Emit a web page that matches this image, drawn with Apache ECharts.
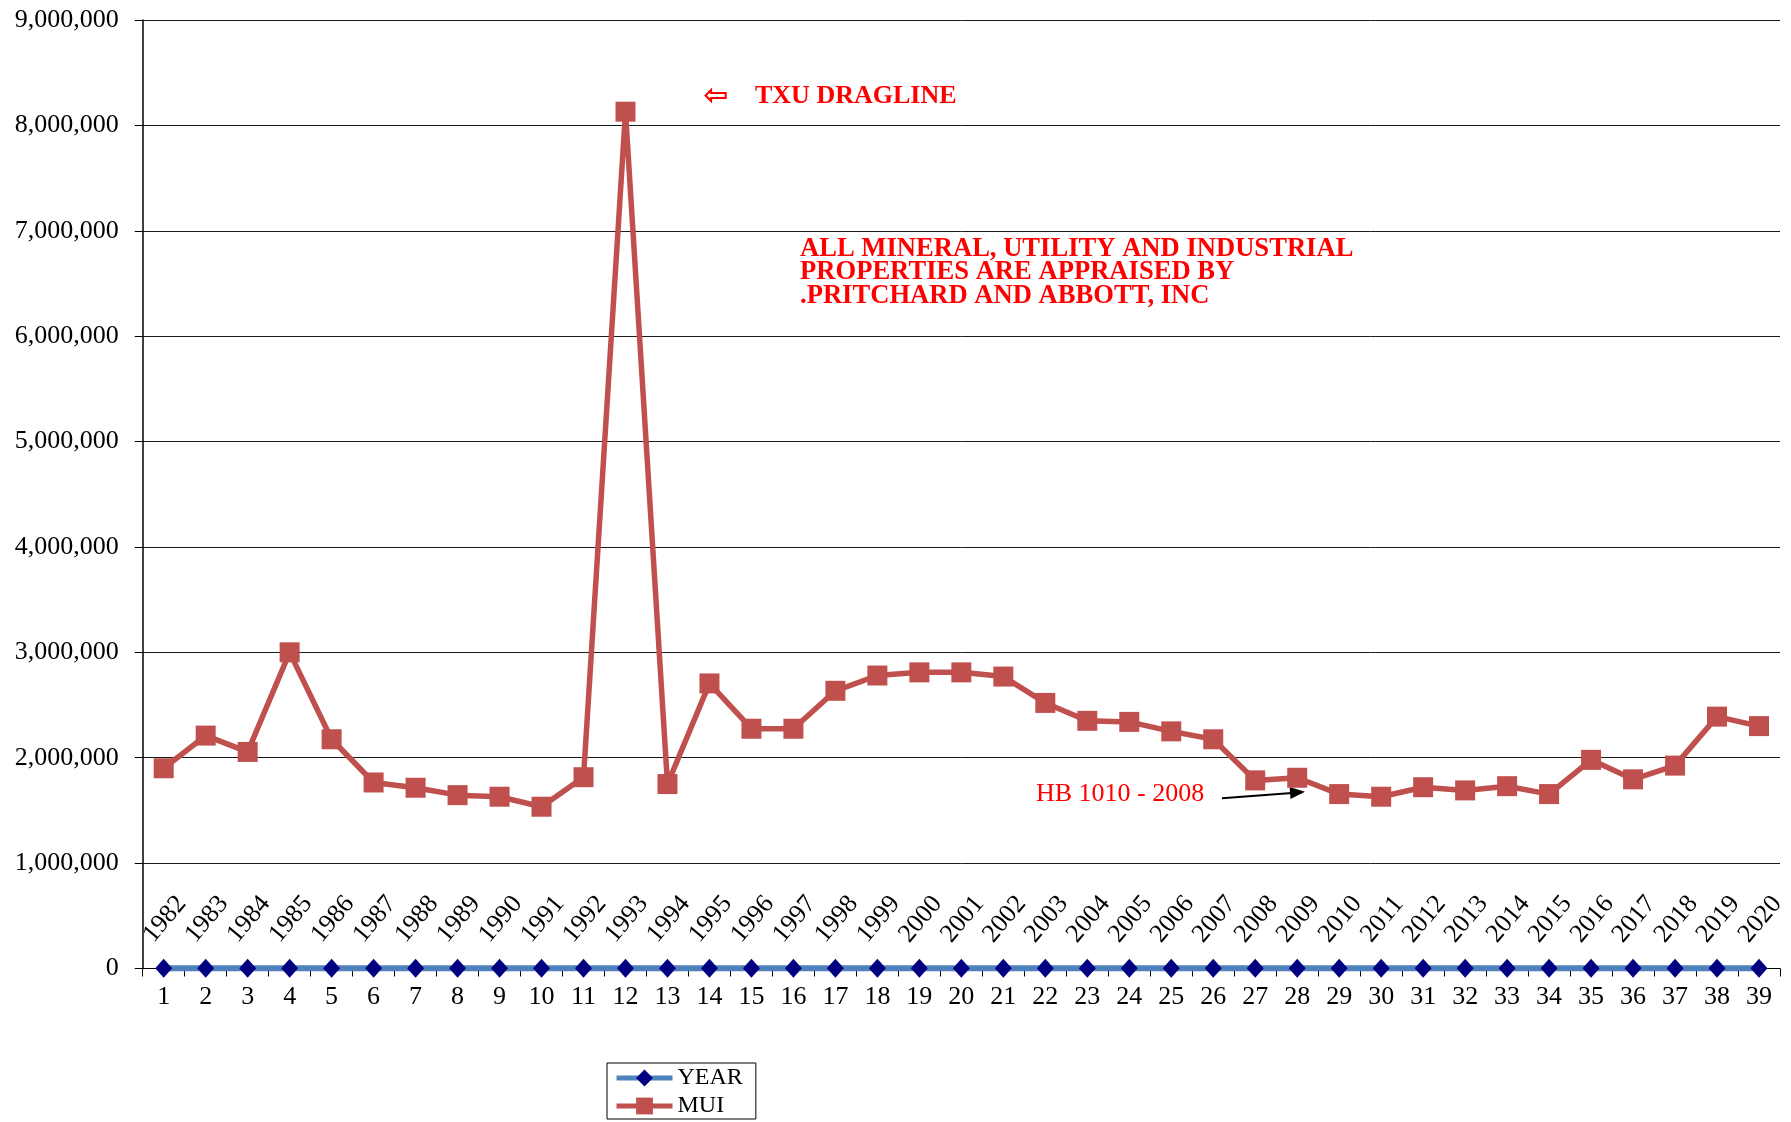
<!DOCTYPE html>
<html>
<head>
<meta charset="utf-8">
<script src="https://cdn.jsdelivr.net/npm/echarts@6/dist/echarts.min.js"></script>
<style>
  html, body { margin: 0; padding: 0; background: #fff; }
  #chart { width: 1791px; height: 1122px; }
</style>
</head>
<body>
<div id="chart"></div>
<script>
const categories = ['1','2','3','4','5','6','7','8','9','10','11','12','13','14','15','16','17','18','19','20',
  '21','22','23','24','25','26','27','28','29','30','31','32','33','34','35','36','37','38','39'];
const yearValues = [1982,1983,1984,1985,1986,1987,1988,1989,1990,1991,1992,1993,1994,1995,1996,1997,1998,1999,2000,
  2001,2002,2003,2004,2005,2006,2007,2008,2009,2010,2011,2012,2013,2014,2015,2016,2017,2018,2019,2020];
const muiValues = [1900000,2210000,2055000,3000000,2175000,1765000,1715000,1645000,1630000,1535000,
  1815000,8130000,1750000,2705000,2275000,2275000,2635000,2780000,2810000,2810000,
  2770000,2520000,2350000,2340000,2250000,2175000,1785000,1810000,1655000,1630000,
  1720000,1690000,1730000,1655000,1980000,1795000,1925000,2390000,2300000];
const seriesNames = ['YEAR', 'MUI'];
const yTicks = { min: 0, max: 9000000, interval: 1000000 };

const serif = "'Liberation Serif', 'Times New Roman', serif";
const chart = echarts.init(document.getElementById('chart'), null, { renderer: 'canvas' });

chart.setOption({
  backgroundColor: '#ffffff',
  animation: false,
  textStyle: { fontFamily: serif, color: '#000' },
  grid: { left: 142.7, right: 11, top: 20, bottom: 153.5, containLabel: false },
  legend: {
    data: seriesNames,
    orient: 'vertical',
    left: 607,
    top: 1063,
    padding: [3, 13, 1, 7],
    itemGap: 4,
    itemWidth: 56,
    itemHeight: 21,
    borderColor: '#000',
    borderWidth: 1,
    lineStyle: { width: 5 },
    textStyle: { fontFamily: serif, fontSize: 24, color: '#000' }
  },
  xAxis: {
    type: 'category',
    data: categories,
    boundaryGap: true,
    axisLine: { show: true, onZero: false, lineStyle: { color: '#000', width: 1 } },
    axisTick: { show: true, length: 8, inside: false, alignWithLabel: false, lineStyle: { color: '#000', width: 1 } },
    axisLabel: { fontFamily: serif, fontSize: 26, color: '#000', margin: 16, interval: 0 },
    splitLine: { show: false }
  },
  yAxis: {
    type: 'value',
    min: yTicks.min,
    max: yTicks.max,
    interval: yTicks.interval,
    axisLine: { show: true, lineStyle: { color: '#000', width: 1.5 } },
    axisTick: { show: true, length: 8, lineStyle: { color: '#000', width: 1 } },
    axisLabel: {
      fontFamily: serif, fontSize: 26, color: '#000', margin: 24,
      formatter: v => Number(v).toLocaleString('en-US')
    },
    splitLine: { show: true, lineStyle: { color: '#1a1a1a', width: 1 } }
  },
  series: [
    {
      name: seriesNames[0],
      type: 'line',
      data: yearValues,
      clip: false,
      symbol: 'diamond',
      symbolSize: [17, 19],
      lineStyle: { color: '#4F81BD', width: 6 },
      itemStyle: { color: '#000080', borderWidth: 0 },
      label: {
        show: true,
        position: 'top',
        distance: 38,
        offset: [2, 0],
        rotate: 50,
        align: 'center',
        verticalAlign: 'middle',
        formatter: '{c}',
        fontFamily: serif,
        fontSize: 26,
        color: '#000'
      },
      z: 2
    },
    {
      name: seriesNames[1],
      type: 'line',
      data: muiValues,
      symbol: 'rect',
      symbolSize: 20,
      lineStyle: { color: '#C0504D', width: 5.5 },
      itemStyle: { color: '#C0504D', borderWidth: 0 },
      z: 3
    }
  ],
  graphic: [
    {
      type: 'text', x: 716, y: 97,
      style: { text: '\u21E6', fontFamily: "'DejaVu Sans'", fontSize: 30, fontWeight: 'bold', fill: '#FF0000', align: 'center', verticalAlign: 'middle' }
    },
    {
      type: 'text', x: 755, y: 96,
      style: { text: 'TXU DRAGLINE', fontFamily: serif, fontSize: 26, fontWeight: 'bold', fill: '#FF0000', align: 'left', verticalAlign: 'middle' }
    },
    {
      type: 'text', x: 800, y: 272.5,
      style: {
        text: 'ALL MINERAL, UTILITY AND INDUSTRIAL\nPROPERTIES ARE APPRAISED BY\n.PRITCHARD AND ABBOTT, INC',
        fontFamily: serif, fontSize: 26.6, fontWeight: 'bold', lineHeight: 23.5, fill: '#FF0000', align: 'left', verticalAlign: 'middle'
      }
    },
    {
      type: 'text', x: 1036, y: 794,
      style: { text: 'HB 1010 - 2008', fontFamily: serif, fontSize: 26, fill: '#FF0000', align: 'left', verticalAlign: 'middle' }
    },
    {
      type: 'line',
      shape: { x1: 1222, y1: 798.3, x2: 1292, y2: 793 },
      style: { stroke: '#000', lineWidth: 2 }
    },
    {
      type: 'polygon',
      shape: { points: [[1305, 791.7], [1290.5, 798.9], [1289.6, 786.9]] },
      style: { fill: '#000' }
    }
  ]
});
</script>
</body>
</html>
